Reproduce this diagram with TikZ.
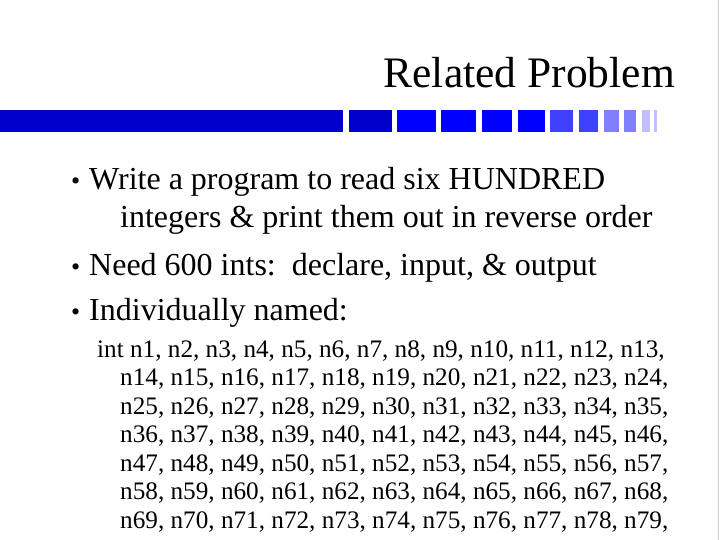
\documentclass[tikz,border=0pt]{standalone}
\usepackage{fontspec}
\setmainfont{Liberation Serif}
\begin{document}
\begin{tikzpicture}[x=1pt,y=-1pt,
  big/.style={anchor=base west,inner sep=0pt,font=\fontsize{32}{32}\selectfont},
  bul/.style={anchor=base west,inner sep=0pt,font=\fontsize{26}{26}\selectfont},
  sm/.style={anchor=base west,inner sep=0pt,font=\fontsize{25.2}{25.2}\selectfont}]
\useasboundingbox (0,0) rectangle (720,540);
\fill[white] (0,0) rectangle (720,540);
\draw[gray!40] (718,0) -- (718,540);
\node[anchor=base east,inner sep=0pt,font=\fontsize{43.5}{43.5}\selectfont] (title) at (675,88) {Related Problem};
\definecolor{b1}{HTML}{0000CC}\definecolor{b2}{HTML}{0000FF}\definecolor{b3}{HTML}{4040FF}\definecolor{b4}{HTML}{8080FF}\definecolor{b5}{HTML}{C0C0FF}
\fill[b1] (0,110) rectangle (343,132);
\fill[b1] (349,110) rectangle (392,132);
\fill[b2] (397,110) rectangle (436,132);
\fill[b2] (441,110) rectangle (476,132);
\fill[b2] (482,110) rectangle (512,132);
\fill[b2] (518,110) rectangle (545,132);
\fill[b3] (550,110) rectangle (573,132);
\fill[b3] (579,110) rectangle (598,132);
\fill[b4] (604,110) rectangle (619,132);
\fill[b4] (624,110) rectangle (636,132);
\fill[b5] (642,110) rectangle (650,132);
\fill[b5] (654,110) rectangle (657,132);
\foreach \y/\n in {190/a,275/b,320/c}{\node[bul] (bul\n) at (71,\y) {•};}
\node[big] (l1) at (89,190) {Write a program to read six HUNDRED};
\node[big] (l2) at (120,227) {integers \& print them out in reverse order};
\node[big] (l3) at (89,275) {Need 600 ints:\, declare, input, \& output};
\node[big] (l4) at (89,320) {Individually named:};
\node[sm] (s1) at (97,357) {int n1, n2, n3, n4, n5, n6, n7, n8, n9, n10, n11, n12, n13,};
\node[sm] (s2) at (120,385.5) {n14, n15, n16, n17, n18, n19, n20, n21, n22, n23, n24,};
\node[sm] (s3) at (120,414) {n25, n26, n27, n28, n29, n30, n31, n32, n33, n34, n35,};
\node[sm] (s4) at (120,442.5) {n36, n37, n38, n39, n40, n41, n42, n43, n44, n45, n46,};
\node[sm] (s5) at (120,471) {n47, n48, n49, n50, n51, n52, n53, n54, n55, n56, n57,};
\node[sm] (s6) at (120,499.5) {n58, n59, n60, n61, n62, n63, n64, n65, n66, n67, n68,};
\node[sm] (s7) at (120,528) {n69, n70, n71, n72, n73, n74, n75, n76, n77, n78, n79,};
\end{tikzpicture}
\end{document}
